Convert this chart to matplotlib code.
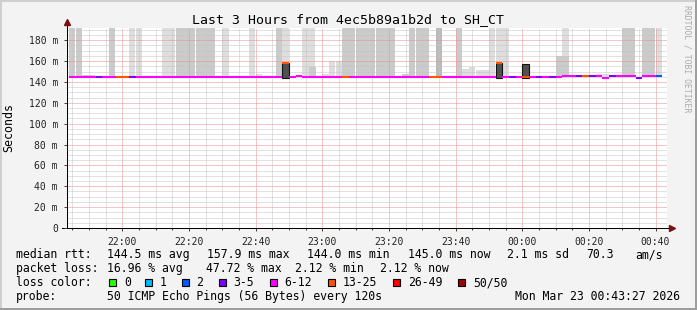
import matplotlib
matplotlib.use("Agg")
import matplotlib.pyplot as plt
import matplotlib.dates as mdates
from matplotlib.ticker import MultipleLocator, FuncFormatter
from matplotlib.patches import Rectangle
from matplotlib.lines import Line2D
import numpy as np
import pandas as pd

# ---------------- data ----------------
title = "Last 3 Hours from 4ec5b89a1b2d to SH_CT"
step_start = pd.date_range("2026-03-22 21:44", periods=89, freq="2min")
view_start = pd.Timestamp("2026-03-22 21:43:27")
view_end = pd.Timestamp("2026-03-23 00:43:27")

OFF = 250.0  # smoke extends beyond the top of the scale
# upper edge of the smoke (ms), 0 = no smoke
smoke_top = [OFF, OFF, 147, 147, 0, 0, OFF, 0, 0, OFF,
             OFF, 0, 0, 0, OFF, OFF, OFF, OFF, OFF, OFF,
             OFF, OFF, 0, OFF, 0, 0, 0, OFF, 147.6, 0,
             0, OFF, OFF, 0, 0, OFF, OFF, 0, 148, 160,
             160, OFF, OFF, OFF, OFF, OFF, OFF, OFF, OFF, 0,
             148, OFF, OFF, OFF, 0, OFF, 0, 146, OFF, 152,
             154, 151, 151, OFF, OFF, OFF, 0, 0, 0, 0,
             0, 0, 0, 165, OFF, 0, 147, 147, 0, 148,
             148, 0, 0, OFF, OFF, 0, OFF, OFF, OFF]
# smoke density level: 1 light, 2 medium, 3 dense
smoke_density = [2, 2, 2, 2, 0, 0, 2, 0, 0, 1,
                 1, 0, 0, 0, 1, 1, 2, 2, 2, 2,
                 2, 2, 0, 1, 0, 0, 0, 1, 1, 0,
                 0, 2, 1, 0, 0, 1, 1, 0, 1, 1,
                 1, 2, 2, 2, 2, 2, 2, 2, 2, 0,
                 2, 2, 2, 2, 0, 3, 0, 1, 2, 1,
                 1, 1, 1, 1, 1, 1, 0, 0, 0, 0,
                 0, 0, 0, 2, 1, 0, 1, 1, 0, 1,
                 1, 0, 0, 2, 2, 0, 2, 2, 1]
inner_smoke_top = {36: 154, 74: 165}          # denser inner band
core_smoke_top = {32: 158.0, 64: 158.0, 68: 157.5}  # darkest band

B = 144.6
median_ms = [B] * 32 + [157.9, B, 145.7] + [B] * 29 + [158.0] + [B] * 9 + \
            [145.6] * 6 + [144.0] + [145.5] * 4 + [144.0] + [145.3] * 3
loss_count = [8, 8, 8, 8, 4, 8, 8, 15, 15, 4,
              8, 8, 8, 8, 8, 8, 8, 8, 8, 8,
              8, 8, 8, 8, 8, 8, 8, 8, 8, 8,
              8, 8, 15, 8, 8, 8, 8, 8, 8, 8,
              8, 15, 8, 8, 8, 8, 8, 8, 8, 8,
              8, 8, 8, 8, 15, 15, 8, 8, 8, 8,
              8, 8, 8, 8, 15, 8, 4, 8, 15, 8,
              4, 8, 4, 8, 8, 8, 4, 15, 4, 8,
              8, 4, 8, 8, 8, 4, 8, 8, 2]

loss_labels = ["0", "1", "2", "3-5", "6-12", "13-25", "26-49", "50/50"]
loss_bins_low = [0, 1, 2, 3, 6, 13, 26, 50]
loss_colors = ["#26ff00", "#00b8ff", "#0059ff", "#7e00ff", "#ff00ff",
               "#ff5500", "#ff0000", "#a10000"]

rtt_avg, rtt_max, rtt_min, rtt_now, rtt_sd, rtt_ams = 144.5, 157.9, 144.0, 145.0, 2.1, 70.3
loss_avg, loss_max, loss_min, loss_now = 16.96, 47.72, 2.12, 2.12
probe_text = "50 ICMP Echo Pings (56 Bytes) every 120s"
stamp = "Mon Mar 23 00:43:27 2026"

# ---------------- figure ----------------
W, H = 697, 310
DPI = 100
mono = "DejaVu Sans Mono"
fig = plt.figure(figsize=(W / DPI, H / DPI), dpi=DPI, facecolor="#f3f3f3")

PL, PT, PW, PH = 67, 28, 600, 200
ax = fig.add_axes([PL / W, 1 - (PT + PH) / H, PW / W, PH / H])
ax.set_facecolor("white")

ymax = 191.7
ax.set_xlim(view_start, view_end)
ax.set_ylim(0, ymax)

shade_colors = {1: "#dedede", 2: "#cbcbcb", 3: "#bababa"}
step_w = pd.Timedelta(minutes=2)
med = np.array(median_ms)
bottom = med - 0.8
top = np.array(smoke_top, dtype=float)
dens = np.array(smoke_density)
has = top > 0
ax.bar(step_start[has], (top - bottom)[has], bottom=bottom[has], width=step_w,
       align="edge", color=[shade_colors[d] for d in dens[has]], linewidth=0, zorder=1)

idx = sorted(inner_smoke_top)
ax.bar(step_start[idx], [inner_smoke_top[i] - bottom[i] for i in idx],
       bottom=bottom[idx], width=step_w, align="edge", color=shade_colors[2],
       linewidth=0, zorder=1.1)

idx = sorted(core_smoke_top)
ax.bar(step_start[idx], [core_smoke_top[i] - (B - 1.0) for i in idx],
       bottom=B - 1.0, width=step_w, align="edge", color="#505050",
       edgecolor="#111111", linewidth=0.8, zorder=2.6)


def loss_color(n):
    c = loss_colors[0]
    for lo, col in zip(loss_bins_low, loss_colors):
        if n >= lo:
            c = col
    return c


lc = ax.hlines(med, step_start, step_start + step_w,
               colors=[loss_color(n) for n in loss_count], linewidth=1.5, zorder=3)
lc.set_capstyle("butt")

# grid / ticks
ax.xaxis.set_major_locator(mdates.MinuteLocator(byminute=[0, 20, 40]))
ax.xaxis.set_minor_locator(mdates.MinuteLocator(byminute=range(0, 60, 5)))
ax.xaxis.set_major_formatter(mdates.DateFormatter("%H:%M"))
ax.yaxis.set_major_locator(MultipleLocator(20))
ax.yaxis.set_minor_locator(MultipleLocator(5))
ax.yaxis.set_major_formatter(FuncFormatter(lambda v, p: "0" if v == 0 else f"{v:.0f} m"))
ax.set_axisbelow(False)
ax.grid(which="minor", color="#c4c4c4", linestyle=(0, (1, 1)), linewidth=0.72)
ax.grid(which="major", color="#f08c8c", linestyle=(0, (1, 1)), linewidth=0.72)
ax.tick_params(which="both", direction="out", color="#444444", width=0.72)
ax.tick_params(which="major", length=2, labelsize=7, pad=4.5, labelcolor="#222222")
ax.tick_params(axis="x", which="minor", length=1.4)
ax.tick_params(axis="y", which="minor", length=0)
for lab in ax.get_xticklabels() + ax.get_yticklabels():
    lab.set_family(mono)

for s in ["top", "right"]:
    ax.spines[s].set_visible(False)
for s in ["left", "bottom"]:
    ax.spines[s].set_color("black")
    ax.spines[s].set_linewidth(0.72)
    ax.spines[s].set_zorder(4)

arrow_col = "#7a1010"
ax.add_line(Line2D([0, 0], [1, 1.025], transform=ax.transAxes, color="black",
                   lw=0.72, clip_on=False))
ax.add_line(Line2D([-5 / PW, 0], [0, 0], transform=ax.transAxes, color="black",
                   lw=0.72, clip_on=False))
ax.add_line(Line2D([1, 1.006], [0, 0], transform=ax.transAxes, color="black",
                   lw=0.72, clip_on=False))
ax.add_line(Line2D([0], [1.028], transform=ax.transAxes, marker="^", ms=4,
                   color=arrow_col, mec=arrow_col, clip_on=False))
ax.add_line(Line2D([1.008], [0], transform=ax.transAxes, marker=">", ms=4,
                   color=arrow_col, mec=arrow_col, clip_on=False))


def px(x, y):
    return x / W, 1 - y / H


# title, axis label, watermark
fig.text(*px(348.5, 23.5), title, ha="center", va="baseline", family=mono,
         size=9.5, color="black")
fig.text(*px(9, 128), "Seconds", rotation=90, ha="center", va="center",
         family=mono, size=8.4, color="black")
fig.text(*px(687.5, 5), "RRDTOOL / TOBI OETIKER", rotation=270, ha="center",
         va="top", family=mono, size=5.9, color="#ababab")

# legend
LS = 8.3
line1 = [("median rtt:", 16), (f"{rtt_avg:.1f} ms avg", 107.3),
         (f"{rtt_max:.1f} ms max", 207.3), (f"{rtt_min:.1f} ms min", 306.7),
         (f"{rtt_now:.1f} ms now", 407.7), (f"{rtt_sd:.1f} ms sd", 506.7),
         (f"{rtt_ams:.1f}", 586), ("am/s", 635)]
line2 = [("packet loss:", 16), (f"{loss_avg:.2f} % avg", 107.3),
         (f"{loss_max:.2f} % max", 206), (f"{loss_min:.2f} % min", 295),
         (f"{loss_now:.2f} % now", 380)]
for (txt, x) in line1:
    fig.text(*px(x, 258), txt, ha="left", va="baseline", family=mono, size=LS)
for (txt, x) in line2:
    fig.text(*px(x, 272), txt, ha="left", va="baseline", family=mono, size=LS)

fig.text(*px(16, 286), "loss color:", ha="left", va="baseline", family=mono, size=LS)
box_x = [109.3, 145, 181.7, 219, 270, 328.3, 393.3, 458.3]
for bx, lab, col in zip(box_x, loss_labels, loss_colors):
    fig.add_artist(Rectangle(px(bx, 286), 7 / W, 7 / H, transform=fig.transFigure,
                             facecolor=col, edgecolor="black", linewidth=0.8))
    fig.text(*px(bx + 14.5, 286), lab, ha="left", va="baseline", family=mono, size=LS)

fig.text(*px(16, 300), "probe:", ha="left", va="baseline", family=mono, size=LS)
fig.text(*px(107.3, 300), probe_text, ha="left", va="baseline", family=mono, size=LS)
fig.text(*px(680, 300), stamp, ha="right", va="baseline", family=mono, size=LS)

# 3D frame
for (x, y, w, h, c) in [(0, 0, W, 2, "#cfcfcf"), (0, 0, 2, H, "#cfcfcf"),
                        (0, H - 2, W, 2, "#9e9e9e"), (W - 2, 0, 2, H, "#9e9e9e")]:
    fig.add_artist(Rectangle((x / W, 1 - (y + h) / H), w / W, h / H,
                             transform=fig.transFigure, facecolor=c, linewidth=0))

fig.savefig("out.png", dpi=DPI, facecolor=fig.get_facecolor())
